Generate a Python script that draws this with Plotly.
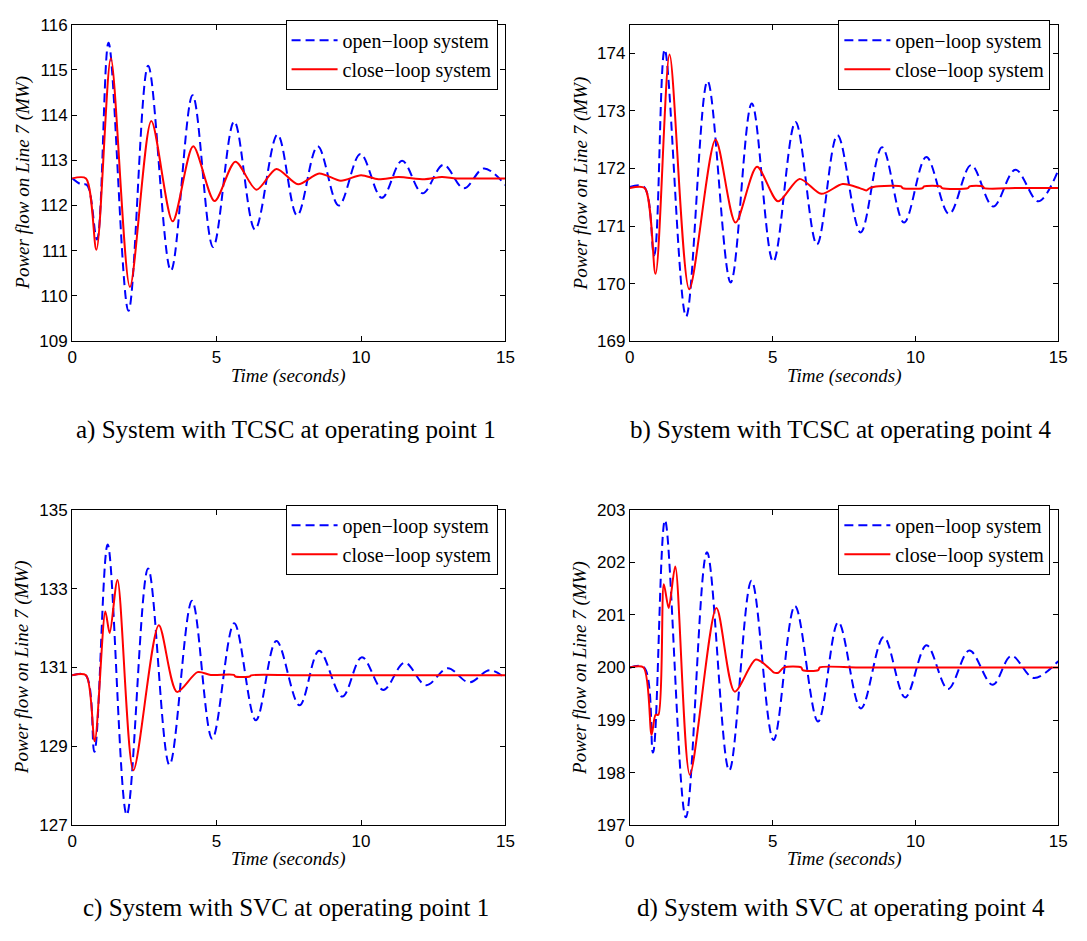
import plotly.graph_objects as go

# ---------------- data ----------------
# a) TCSC, operating point 1
ta_open = [0, 0.3, 0.52, 0.86, 1.26, 1.95, 2.63, 3.42, 4.17, 4.88, 5.61, 6.33, 7.11, 7.79, 8.5, 9.23,
           9.98, 10.72, 11.42, 12.13, 12.85, 13.56, 14.25, 15]
va_open = [112.6, 112.47, 112.45, 111.25, 115.6, 109.67, 115.09, 110.56, 114.44, 111.08, 113.86, 111.47,
           113.57, 111.78, 113.31, 112.0, 113.14, 112.17, 112.99, 112.27, 112.9, 112.38, 112.82, 112.45]
ta_close = [0, 0.48, 0.84, 1.34, 2.0, 2.74, 3.48, 4.19, 4.93, 5.65, 6.38, 7.07, 7.82, 8.55, 9.3, 10.0,
            10.6, 11.3, 12.2, 12.8, 13.3, 14.2, 15]
va_close = [112.6, 112.6, 111.02, 115.26, 110.2, 113.87, 111.65, 113.31, 112.1, 112.97, 112.35, 112.81,
            112.47, 112.71, 112.55, 112.67, 112.58, 112.63, 112.58, 112.63, 112.6, 112.6, 112.6]

# b) TCSC, operating point 4
tb_open = [0, 0.5, 0.85, 1.22, 1.97, 2.72, 3.53, 4.27, 5.02, 5.80, 6.55, 7.27, 8.08, 8.83, 9.6, 10.38,
           11.18, 11.95, 12.72, 13.5, 14.3, 15]
vb_open = [171.68, 171.68, 170.49, 174.07, 169.43, 173.52, 170.02, 173.13, 170.38, 172.81, 170.68, 172.58,
           170.89, 172.37, 171.06, 172.2, 171.21, 172.06, 171.34, 171.98, 171.43, 171.97]
tb_close = [0, 0.52, 0.9, 1.39, 2.08, 3.0, 3.7, 4.45, 5.19, 5.94, 6.7, 7.45, 8.05, 8.28, 8.4, 8.72, 9.5,
            9.55, 10.25, 10.3, 10.88, 10.93, 11.84, 11.89, 12.36, 12.41, 13.5, 14.5, 15]
vb_close = [171.66, 171.66, 170.17, 173.98, 169.9, 172.5, 171.06, 172.03, 171.43, 171.82, 171.56, 171.73,
            171.66, 171.62, 171.66, 171.69, 171.69, 171.66, 171.66, 171.69, 171.69, 171.66, 171.66,
            171.69, 171.69, 171.66, 171.66, 171.66, 171.66]

# c) SVC, operating point 1
tc_open = [0, 0.47, 0.77, 1.23, 1.89, 2.63, 3.37, 4.15, 4.85, 5.61, 6.36, 7.07, 7.87, 8.55, 9.35, 10.03,
           10.77, 11.51, 12.25, 13.0, 13.74, 14.45, 15]
vc_open = [130.8, 130.8, 128.86, 134.12, 127.26, 133.51, 128.53, 132.69, 129.19, 132.12, 129.66, 131.67,
           130.04, 131.42, 130.26, 131.26, 130.43, 131.12, 130.55, 130.98, 130.62, 130.93, 130.72]
tc_close = [0, 0.48, 0.78, 1.15, 1.3, 1.57, 2.12, 3.0, 3.63, 4.34, 4.8, 5.6, 5.65, 6.15, 6.2, 8.0, 11.0,
            13.0, 15]
vc_close = [130.8, 130.8, 129.13, 132.42, 131.87, 133.22, 128.39, 132.07, 130.38, 130.88, 130.81, 130.81,
            130.77, 130.77, 130.8, 130.8, 130.8, 130.8, 130.8]

# d) SVC, operating point 4
td_open = [0, 0.5, 0.81, 1.23, 1.96, 2.70, 3.48, 4.26, 5.03, 5.78, 6.59, 7.30, 8.09, 8.89, 9.64, 10.39,
           11.14, 11.89, 12.70, 13.36, 14.14, 15]
vd_open = [200.0, 200.0, 198.38, 202.8, 197.15, 202.19, 198.04, 201.65, 198.62, 201.17, 198.97, 200.86,
           199.22, 200.58, 199.43, 200.42, 199.59, 200.32, 199.67, 200.22, 199.8, 200.12]
td_close = [0, 0.48, 0.76, 0.9, 1.0, 1.19, 1.36, 1.59, 2.1, 3.03, 3.67, 4.41, 4.85, 5.05, 5.2, 5.4, 6.0,
            6.05, 6.6, 6.65, 8.0, 11.0, 13.0, 15]
vd_close = [200.0, 200.0, 198.72, 199.1, 199.1, 201.58, 201.13, 201.92, 197.96, 201.13, 199.54, 200.15,
            200.0, 199.9, 199.9, 200.0, 200.0, 199.95, 199.95, 200.0, 200.0, 200.0, 200.0, 200.0]

panels = [
    dict(t_o=ta_open, v_o=va_open, t_c=ta_close, v_c=va_close, yr=[109, 116], ticks=[109, 110, 111, 112, 113, 114, 115, 116],
         cap="a) System with TCSC at operating point 1"),
    dict(t_o=tb_open, v_o=vb_open, t_c=tb_close, v_c=vb_close, yr=[169, 174.5], ticks=[169, 170, 171, 172, 173, 174],
         cap="b) System with TCSC at operating point 4"),
    dict(t_o=tc_open, v_o=vc_open, t_c=tc_close, v_c=vc_close, yr=[127, 135], ticks=[127, 129, 131, 133, 135],
         cap="c) System with SVC at operating point 1"),
    dict(t_o=td_open, v_o=vd_open, t_c=td_close, v_c=vd_close, yr=[197, 203], ticks=[197, 198, 199, 200, 201, 202, 203],
         cap="d) System with SVC at operating point 4"),
]
x_ticks = [0, 5, 10, 15]
series_names = ["open\u2212loop system", "close\u2212loop system"]

# ---------------- layout geometry (pixels) ----------------
W, H = 1087, 941
xdoms = [(68, 507), (633, 1067), (68, 507), (633, 1067)]
ydoms = [(16, 339), (16, 339), (511, 833), (511, 833)]
cap_y = [430, 430, 918, 918]
xtitle_y = [375, 375, 868, 868]
ytitle_x = [18, 583, 18, 583]

fig = go.Figure()
layout = dict(width=W, height=H, margin=dict(l=0, r=0, t=0, b=0), paper_bgcolor="white",
              plot_bgcolor="white", showlegend=True, annotations=[])

serif = "Liberation Serif, Times New Roman, serif"
sans = "Liberation Sans, Arial, Helvetica, sans-serif"

for i, p in enumerate(panels):
    k = "" if i == 0 else str(i + 1)
    lg = "legend" if i == 0 else "legend" + str(i + 1)
    fig.add_trace(go.Scatter(x=p["t_o"], y=p["v_o"], mode="lines", name=series_names[0],
                             line=dict(color="#0000FF", width=2, dash="9px,5px", shape="spline", smoothing=1.0),
                             xaxis="x" + k, yaxis="y" + k, legend=lg))
    fig.add_trace(go.Scatter(x=p["t_c"], y=p["v_c"], mode="lines", name=series_names[1],
                             line=dict(color="#FF0000", width=2, shape="spline", smoothing=0.8),
                             xaxis="x" + k, yaxis="y" + k, legend=lg))
    x0, x1 = xdoms[i]
    y0, y1 = ydoms[i]
    axcommon = dict(showline=True, linecolor="black", linewidth=1, mirror="ticks", ticks="inside",
                    ticklen=5, tickcolor="black", showgrid=False, zeroline=False,
                    tickfont=dict(family=sans, size=17, color="black"))
    layout["xaxis" + k] = dict(domain=[x0 / W, x1 / W], range=[0, 15], tickvals=x_ticks,
                               anchor="y" + k, **axcommon)
    layout["yaxis" + k] = dict(domain=[1 - y1 / H, 1 - y0 / H], range=p["yr"], tickvals=p["ticks"],
                               anchor="x" + k, **axcommon)
    layout[lg] = dict(x=(x1 - 8) / W, y=1 - (y0 - 5) / H, xanchor="right", yanchor="top",
                      xref="paper", yref="paper",
                      bordercolor="black", borderwidth=1, bgcolor="white",
                      font=dict(family=serif, size=20, color="black"), itemwidth=46,
                      tracegroupgap=0)
    # axis titles
    layout["annotations"].append(dict(text="<i>Time (seconds)</i>", x=(x0 + x1) / 2 / W, y=1 - xtitle_y[i] / H,
                                      xref="paper", yref="paper", showarrow=False,
                                      font=dict(family=serif, size=19, color="black"),
                                      xanchor="center", yanchor="middle"))
    layout["annotations"].append(dict(text="<i>Power flow on Line 7 (MW)</i>", x=ytitle_x[i] / W,
                                      y=1 - (y0 + y1) / 2 / H, xref="paper", yref="paper",
                                      showarrow=False, textangle=-90,
                                      font=dict(family=serif, size=19, color="black"),
                                      xanchor="center", yanchor="middle"))
    layout["annotations"].append(dict(text=p["cap"], x=((x0 + x1) / 2 - 3) / W, y=1 - cap_y[i] / H,
                                      xref="paper", yref="paper", showarrow=False,
                                      font=dict(family=serif, size=25, color="black"),
                                      xanchor="center", yanchor="middle"))

fig.update_layout(**layout)
fig.write_html("out.html")
